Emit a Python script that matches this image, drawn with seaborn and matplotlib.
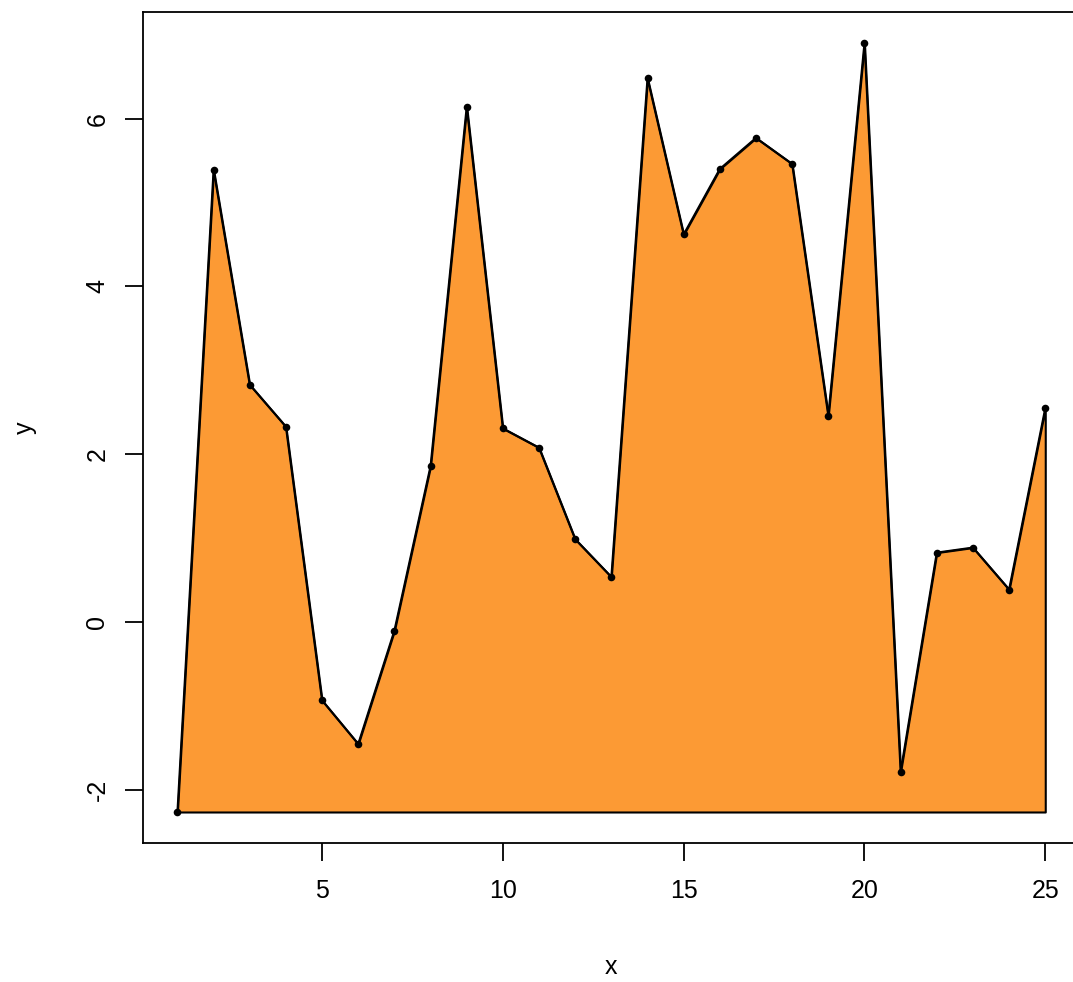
import numpy as np
import pandas as pd
import matplotlib
matplotlib.use("Agg")
import matplotlib.pyplot as plt
import seaborn as sns

# values
x_vals = list(range(1, 26))
y_vals = [-2.26, 5.39, 2.83, 2.33, -0.93, -1.45, -0.10, 1.86, 6.14, 2.31,
          2.08, 0.99, 0.54, 6.48, 4.62, 5.40, 5.77, 5.46, 2.46, 6.90,
          -1.78, 0.83, 0.89, 0.39, 2.55]
x_ticks = [5, 10, 15, 20, 25]
y_ticks = [-2, 0, 2, 4, 6]

df = pd.DataFrame({"x": x_vals, "y": y_vals})

sns.set_theme(style="white")
plt.rcParams["font.family"] = ["Liberation Sans", "DejaVu Sans"]
plt.rcParams["axes.unicode_minus"] = False

fig = plt.figure(figsize=(10.73, 9.82), dpi=100)
ax = fig.add_axes([0.133, 0.1418, 0.8735, 0.8457])

# R-style 4% padding on both axes
xr = df.x.max() - df.x.min()
yr = df.y.max() - df.y.min()
ax.set_xlim(df.x.min() - 0.04 * xr, df.x.max() + 0.04 * xr)
ax.set_ylim(df.y.min() - 0.04 * yr, df.y.max() + 0.04 * yr)

ax.fill_between(df.x, df.y, df.y.min(), facecolor="#FC9A34",
                edgecolor="black", linewidth=1.5, zorder=2)
sns.lineplot(data=df, x="x", y="y", color="black", linewidth=1.5,
             ax=ax, zorder=3)
sns.scatterplot(data=df, x="x", y="y", color="black", s=30,
                linewidth=0, ax=ax, zorder=4)

ax.set_xticks(x_ticks)
ax.set_yticks(y_ticks)
ax.tick_params(axis="both", which="major", direction="out", length=13,
               width=1.3, color="black", labelsize=18, labelcolor="black",
               bottom=True, left=True)
ax.tick_params(axis="x", pad=13)
ax.tick_params(axis="y", pad=11, labelrotation=90)
for lab in ax.get_yticklabels():
    lab.set_va("center")

for sp in ax.spines.values():
    sp.set_color("black")
    sp.set_linewidth(1.3)

ax.set_xlabel("x", fontsize=18, color="black")
ax.set_ylabel("y", fontsize=18, color="black")
ax.xaxis.label.set_va("center")
ax.yaxis.label.set_va("center")
ax.xaxis.set_label_coords(0.5, -0.1497)
ax.yaxis.set_label_coords(-0.1256, 0.5)

fig.savefig("out.png", dpi=100)
